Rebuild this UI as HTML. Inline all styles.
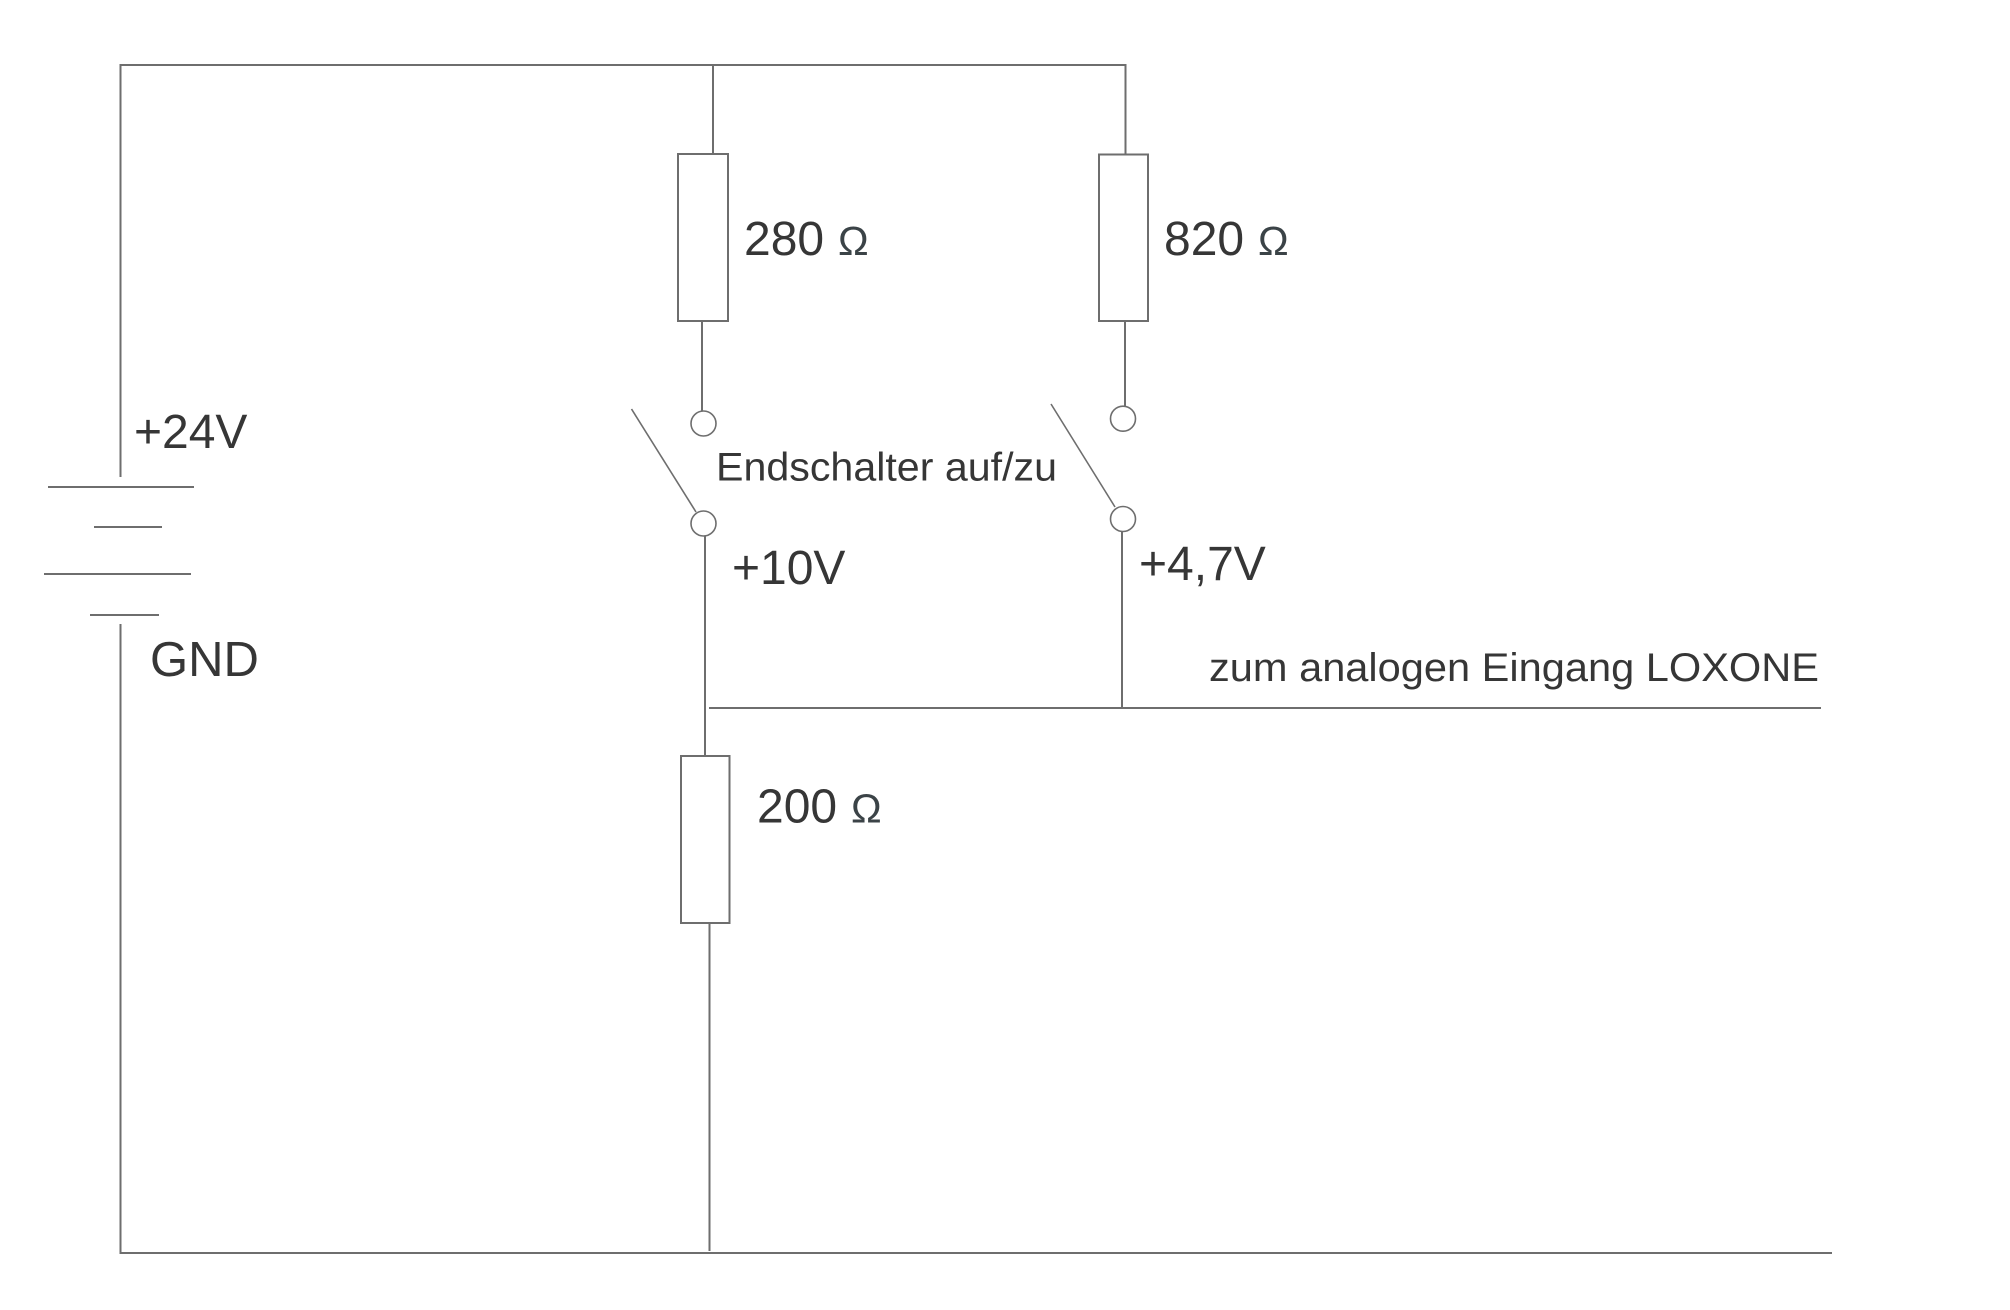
<!DOCTYPE html>
<html>
<head>
<meta charset="utf-8">
<style>
  html, body { margin:0; padding:0; background:#ffffff; }
  body { width:2010px; height:1310px; overflow:hidden; }
  svg { display:block; }
  .w { stroke:#6e6e6e; stroke-width:2; fill:none; }
  .t { font-family:"Liberation Sans", Arial, sans-serif; fill:#363636; }
  .o { font-family:"Liberation Sans", Arial, sans-serif; fill:#3b4347; }
</style>
</head>
<body>
<svg width="2010" height="1310" viewBox="0 0 2010 1310" xmlns="http://www.w3.org/2000/svg">
  <rect x="0" y="0" width="2010" height="1310" fill="#ffffff"/>

  <!-- top rail and left supply -->
  <path class="w" d="M120.5 477 V65 H1125.5 V154.5"/>
  <path class="w" d="M713 65 V154"/>

  <!-- battery -->
  <line class="w" x1="48" y1="487" x2="194" y2="487" stroke-width="2.5"/>
  <line class="w" x1="94" y1="527" x2="162" y2="527" stroke-width="2.5"/>
  <line class="w" x1="44" y1="574" x2="191" y2="574" stroke-width="2.5"/>
  <line class="w" x1="90" y1="615" x2="159" y2="615" stroke-width="2.5"/>

  <!-- left return and bottom rail -->
  <path class="w" d="M120.5 624 V1253 H1832"/>

  <!-- 280 ohm branch -->
  <rect class="w" x="678" y="154" width="50" height="167"/>
  <line class="w" x1="702" y1="321" x2="702" y2="411"/>
  <circle cx="703.5" cy="423.5" r="12.5" fill="#fff" stroke="#6e6e6e" stroke-width="1.6"/>
  <line x1="631.5" y1="409" x2="696" y2="512" stroke="#6e6e6e" stroke-width="1.6"/>
  <circle cx="703.5" cy="523.5" r="12.5" fill="#fff" stroke="#6e6e6e" stroke-width="1.6"/>
  <line class="w" x1="705" y1="536" x2="705" y2="756"/>

  <!-- 200 ohm -->
  <rect class="w" x="681" y="756" width="48.5" height="167"/>
  <line class="w" x1="709.5" y1="923" x2="709.5" y2="1251"/>

  <!-- analog output line -->
  <line class="w" x1="709" y1="708" x2="1821" y2="708" stroke-width="2.5"/>

  <!-- 820 ohm branch -->
  <rect class="w" x="1099" y="154.5" width="49" height="166.5"/>
  <line class="w" x1="1125" y1="321" x2="1125" y2="406"/>
  <circle cx="1123" cy="418.7" r="12.5" fill="#fff" stroke="#6e6e6e" stroke-width="1.6"/>
  <line x1="1051" y1="404" x2="1115" y2="507" stroke="#6e6e6e" stroke-width="1.6"/>
  <circle cx="1123" cy="519" r="12.5" fill="#fff" stroke="#6e6e6e" stroke-width="1.6"/>
  <line class="w" x1="1122" y1="531.5" x2="1122" y2="708" stroke-width="2.5"/>

  <!-- labels -->
  <text class="t" x="134" y="448" font-size="48">+24V</text>
  <text class="t" x="150" y="676" font-size="49">GND</text>

  <text class="t" x="744" y="255" font-size="48">280</text>
  <text class="o" x="838" y="255" font-size="41">Ω</text>

  <text class="t" x="1164" y="255" font-size="48">820</text>
  <text class="o" x="1258" y="255" font-size="41">Ω</text>

  <text class="t" x="757" y="822.5" font-size="48">200</text>
  <text class="o" x="851" y="822.5" font-size="41">Ω</text>

  <text class="t" x="716" y="480.5" font-size="40" textLength="341" lengthAdjust="spacingAndGlyphs">Endschalter auf/zu</text>
  <text class="t" x="732" y="584" font-size="48">+10V</text>
  <text class="t" x="1139" y="580" font-size="48">+4,7V</text>
  <text class="t" x="1209" y="681" font-size="40" textLength="610" lengthAdjust="spacingAndGlyphs">zum analogen Eingang LOXONE</text>
</svg>
</body>
</html>
